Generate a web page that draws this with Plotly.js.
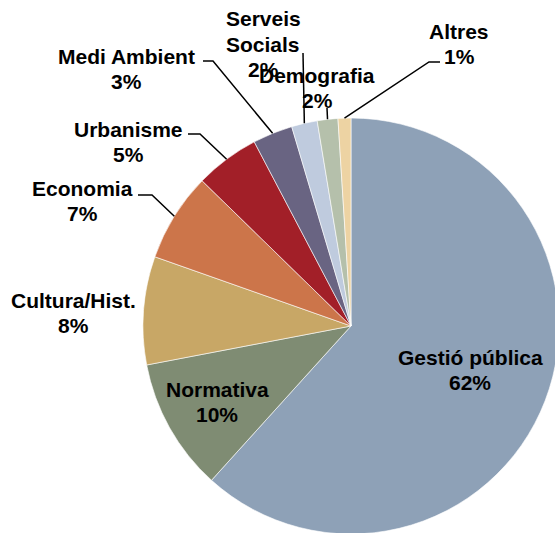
<!DOCTYPE html>
<html>
<head>
<meta charset="utf-8">
<script src="https://cdn.plot.ly/plotly-3.0.1.min.js"></script>
<style>
html,body{margin:0;padding:0;overflow:hidden;background:#fff;width:555px;height:533px;}
#chart{width:600px;height:600px;}
</style>
</head>
<body>
<div id="chart"></div>
<script>
// ---- data ----
var categories = ["Gestió pública","Normativa","Cultura/Hist.","Economia","Urbanisme","Medi Ambient","Serveis Socials","Demografia","Altres"];
var labelLines = [["Gestió pública"],["Normativa"],["Cultura/Hist."],["Economia"],["Urbanisme"],["Medi Ambient"],["Serveis","Socials"],["Demografia"],["Altres"]];
var values = [61.7, 10.3, 8.4, 6.9, 5.0, 3.1, 2.0, 1.6, 1.0];
var colors = ["#8EA1B7","#7F8C73","#C8A766","#CC754A","#A21F28","#696482","#BFCBDE","#B5C0AB","#EDD3A3"];

// ---- layout helpers (pixel positions in the 600x600 plot area) ----
var W = 600, H = 600;
var CX = 351, CY = 326, R = 208;
var LINE = 25;
function px(x){ return x / W; }
function py(y){ return 1 - y / H; }

// label block centres (pixels)
var labelPos = [[470,370],[217,402],[73,313],[82,201],[128,142],[126,69],[263,44],[317,88],[459,44]];
// leader line start points (null = no leader); elbow point optional
var leaders = [null, null, null,
  [[138,195],[152,195]],
  [[188,134],[200,134]],
  [[203,61],[213,61]],
  [[303,53]],
  [[327,108]],
  [[440,62],[429,62]]
];

var total = values.reduce(function(a,b){return a+b;},0);
var cum = 0;
var annotations = [], shapes = [];
var font = {family: "Liberation Sans, Arial, sans-serif", size: 21, color: "#000", weight: "bold"};
for (var i = 0; i < values.length; i++) {
  var mid = (cum + values[i]/2) / total * 2 * Math.PI;
  cum += values[i];
  var ex = CX + R * Math.sin(mid), ey = CY - R * Math.cos(mid);
  var pct = Math.round(values[i] / total * 100) + "%";
  var lines = labelLines[i].concat([pct]);
  for (var k = 0; k < lines.length; k++) {
    var yy = labelPos[i][1] + (k - (lines.length - 1) / 2) * LINE;
    annotations.push({
      x: px(labelPos[i][0]), y: py(yy), xref: "paper", yref: "paper",
      xanchor: "center", yanchor: "middle", showarrow: false, align: "center",
      text: lines[k], font: font
    });
  }
  if (leaders[i]) {
    var pts = leaders[i].concat([[ex, ey]]);
    var d = "M " + px(pts[0][0]) + " " + py(pts[0][1]);
    for (var m = 1; m < pts.length; m++) d += " L " + px(pts[m][0]) + " " + py(pts[m][1]);
    shapes.push({type: "path", xref: "paper", yref: "paper", path: d, line: {color: "#000", width: 1.5}});
  }
}

var trace = {
  type: "pie",
  labels: categories,
  values: values,
  sort: false,
  direction: "clockwise",
  rotation: 0,
  textinfo: "none",
  hoverinfo: "skip",
  marker: {colors: colors, line: {color: "#ffffff", width: 0.6}},
  domain: {x: [px(CX - R), px(CX + R)], y: [py(CY + R), py(CY - R)]},
  showlegend: false
};

var layout = {
  width: W, height: H,
  margin: {l:0, r:0, t:0, b:0},
  paper_bgcolor: "#ffffff",
  showlegend: false,
  annotations: annotations,
  shapes: shapes
};

Plotly.newPlot("chart", [trace], layout, {displayModeBar: false, staticPlot: true});
</script>
</body>
</html>
